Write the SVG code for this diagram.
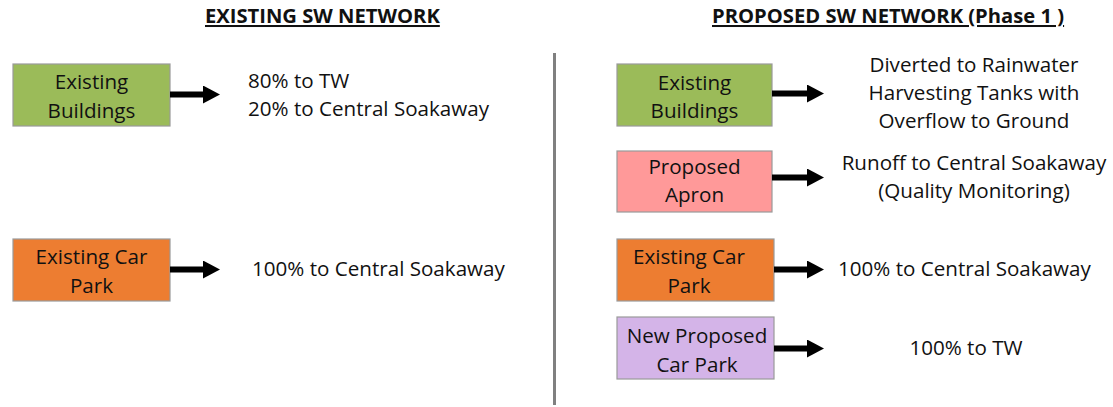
<svg xmlns="http://www.w3.org/2000/svg" width="1113" height="407" viewBox="0 0 1113 407">
<defs>
<style>
text{font-family:"Open Sans","Liberation Sans",sans-serif;font-size:20.6px;fill:#111;}
.title{font-weight:bold;font-size:20.2px;text-decoration:underline;}
.c{text-anchor:middle;}
.box{stroke:#9a9a9a;stroke-width:1.2;}
.green{fill:#9BBB59;}
.orange{fill:#ED7D31;}
.pink{fill:#FF9999;}
.lav{fill:#D4B4E8;}
.arr{stroke:#000;stroke-width:6;fill:none;marker-end:url(#ah);}
</style>
<marker id="ah" viewBox="0 0 17 18" refX="0" refY="9" markerWidth="17" markerHeight="18" markerUnits="userSpaceOnUse" orient="auto">
<path d="M0,0 L17,9 L0,18 z" fill="#000"/>
</marker>
</defs>
<rect width="1113" height="407" fill="#fff"/>
<text class="title" x="205" y="23">EXISTING SW NETWORK</text>
<text class="title" x="712" y="23">PROPOSED SW NETWORK (Phase 1 )</text>
<line x1="554.5" y1="53" x2="554.5" y2="405" stroke="#808080" stroke-width="3"/>

<g id="node-existing-buildings-left">
<rect class="box green" x="13" y="64" width="157" height="62"/>
<text class="c" x="91.5" y="89">Existing</text>
<text class="c" x="91.5" y="117.5">Buildings</text>
</g>
<g id="node-existing-carpark-left">
<rect class="box orange" x="13" y="239" width="157" height="62"/>
<text class="c" x="91.5" y="264">Existing Car</text>
<text class="c" x="91.5" y="292.5">Park</text>
</g>
<g id="label-left-1">
<text x="248" y="88">80% to TW</text>
<text x="248" y="116">20% to Central Soakaway</text>
</g>
<g id="label-left-2">
<text x="252" y="276">100% to Central Soakaway</text>
</g>

<g id="node-existing-buildings-right">
<rect class="box green" x="617" y="64" width="155" height="62"/>
<text class="c" x="694.5" y="90">Existing</text>
<text class="c" x="694.5" y="117.5">Buildings</text>
</g>
<g id="node-proposed-apron">
<rect class="box pink" x="617" y="151" width="155" height="61"/>
<text class="c" x="694.5" y="173.5">Proposed</text>
<text class="c" x="694.5" y="202">Apron</text>
</g>
<g id="node-existing-carpark-right">
<rect class="box orange" x="617" y="239" width="157" height="62"/>
<text class="c" x="689" y="264">Existing Car</text>
<text class="c" x="689" y="292.5">Park</text>
</g>
<g id="node-new-carpark">
<rect class="box lav" x="617" y="317" width="157" height="62"/>
<text class="c" x="697" y="343">New Proposed</text>
<text class="c" x="697" y="371.5">Car Park</text>
</g>
<g id="label-right">
<text class="c" x="974" y="72">Diverted to Rainwater</text>
<text class="c" x="974" y="100">Harvesting Tanks with</text>
<text class="c" x="974" y="128">Overflow to Ground</text>
<text class="c" x="974" y="170">Runoff to Central Soakaway</text>
<text class="c" x="974" y="198">(Quality Monitoring)</text>
<text x="838" y="276">100% to Central Soakaway</text>
<text class="c" x="966" y="355">100% to TW</text>
</g>

<g id="connectors">
<path class="arr" d="M170,94.5 H203"/>
<path class="arr" d="M170,269.5 H203"/>
<path class="arr" d="M772,93.5 H807"/>
<path class="arr" d="M772,177.5 H807"/>
<path class="arr" d="M774,269.5 H807"/>
<path class="arr" d="M774,348.5 H807"/>
</g>
</svg>
